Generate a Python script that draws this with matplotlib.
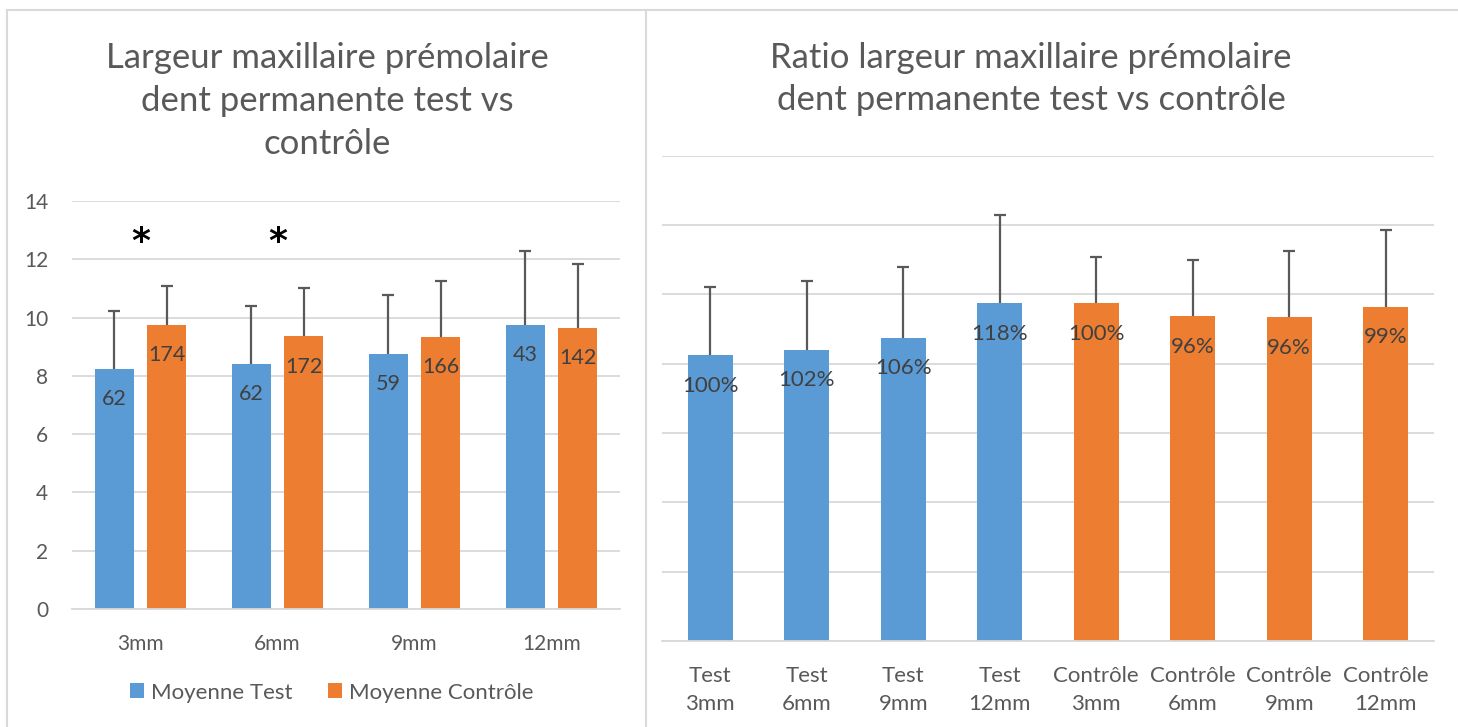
import numpy as np
import matplotlib
matplotlib.use("Agg")
import matplotlib.pyplot as plt
from matplotlib.lines import Line2D

plt.rcParams["font.family"] = ["Lato", "DejaVu Sans"]

# ---------------------------
# Data
# ---------------------------
depths = ["3mm", "6mm", "9mm", "12mm"]
mean_test = [8.24, 8.40, 8.75, 9.74]
mean_ctrl = [9.74, 9.36, 9.33, 9.64]
sd_test = [1.97, 1.98, 2.04, 2.54]
sd_ctrl = [1.33, 1.64, 1.91, 2.20]
n_test = [62, 62, 59, 43]
n_ctrl = [174, 172, 166, 142]
significant = ["3mm", "6mm"]

BLUE = "#5B9BD5"
ORANGE = "#ED7D31"
GRID = "#D9D9D9"
TXT = "#595959"
LBL = "#404040"

W, H = 1458, 727
fig = plt.figure(figsize=(W / 100, H / 100), dpi=100)


def px(x0, y0, x1, y1):
    # pixel box -> figure fraction rect
    return [x0 / W, 1 - y1 / H, (x1 - x0) / W, (y1 - y0) / H]


def style_axis(ax, size):
    for s in ["top", "right", "left"]:
        ax.spines[s].set_visible(False)
    ax.spines["bottom"].set_color(GRID)
    ax.spines["bottom"].set_linewidth(1.3)
    ax.set_ylim(0, 14)
    ax.set_yticks(np.arange(0, 15, 2))
    ax.grid(axis="y", color=GRID, linewidth=1.3)
    ax.set_axisbelow(True)
    ax.tick_params(length=0, colors=TXT, labelsize=size)


def error_up(ax, x, means, sds):
    eb = ax.errorbar(x, means, yerr=[np.zeros(len(sds)), sds], fmt="none",
                     ecolor=TXT, elinewidth=1.6, capsize=4, capthick=1.6, zorder=3)
    for cap in eb.lines[1]:
        if np.allclose(cap.get_ydata(), means):
            cap.set_visible(False)


# ---------------------------
# Left: mean width per depth
# ---------------------------
ax1 = fig.add_axes(px(72, 201, 620, 609))
style_axis(ax1, 15)
x = np.arange(len(depths))
bw = 0.29
off = 0.19
b1 = ax1.bar(x - off, mean_test, bw, color=BLUE, label="Moyenne Test", zorder=2)
b2 = ax1.bar(x + off, mean_ctrl, bw, color=ORANGE, label="Moyenne Contrôle", zorder=2)
error_up(ax1, x - off, mean_test, sd_test)
error_up(ax1, x + off, mean_ctrl, sd_ctrl)
ax1.bar_label(b1, labels=[str(v) for v in n_test], padding=-29, color=LBL, fontsize=15.5)
ax1.bar_label(b2, labels=[str(v) for v in n_ctrl], padding=-29, color=LBL, fontsize=15.5)
ax1.set_xlim(-0.5, len(depths) - 0.5)
ax1.set_xticks(x, depths)
ax1.tick_params(axis="x", pad=18)
ax1.tick_params(axis="y", pad=17)
for d in significant:
    i = depths.index(d)
    ax1.text(i, 12.6, "*", ha="center", va="center", fontsize=26,
             fontweight="bold", color="black", family="DejaVu Sans")
ax1.legend(loc="center", bbox_to_anchor=(0.474, -0.205), ncol=2, frameon=False,
           handlelength=0.65, handleheight=0.65, handletextpad=0.3,
           columnspacing=1.6, fontsize=16, labelcolor=TXT)

fig.text(327 / W, 1 - 101 / H,
         "Largeur maxillaire prémolaire\ndent permanente test vs\ncontrôle",
         ha="center", va="center", fontsize=25, color=TXT, linespacing=1.42)

# ---------------------------
# Right: ratio vs first depth
# ---------------------------
ax2 = fig.add_axes(px(662, 155.5, 1434, 641))
style_axis(ax2, 16)
groups = ["Test"] * len(depths) + ["Contrôle"] * len(depths)
cats = [f"{g}\n{d}" for g, d in zip(groups, depths * 2)]
means_all = mean_test + mean_ctrl
sds_all = sd_test + sd_ctrl
ratios = [m / mean_test[0] for m in mean_test] + [m / mean_ctrl[0] for m in mean_ctrl]
x2 = np.arange(len(cats))
bars = ax2.bar(x2, means_all, 0.47, color=[BLUE] * 4 + [ORANGE] * 4, zorder=2)
error_up(ax2, x2, means_all, sds_all)
ax2.bar_label(bars, labels=[f"{r:.0%}" for r in ratios], padding=-29, color=LBL, fontsize=16)
ax2.set_xlim(-0.5, len(cats) - 0.5)
ax2.set_xticks(x2, cats)
ax2.tick_params(axis="x", pad=18)
ax2.tick_params(axis="y", labelleft=False)
for t in ax2.get_xticklabels():
    t.set_linespacing(1.5)

fig.text(1031 / W, 1 - 79 / H,
         "Ratio largeur maxillaire prémolaire\ndent permanente test vs contrôle",
         ha="center", va="center", fontsize=25, color=TXT, linespacing=1.42)

# panel frames
for xs, ys in [([7 / W, 1], [1 - 10 / H] * 2),
               ([7 / W] * 2, [0, 1 - 10 / H]),
               ([646 / W] * 2, [0, 1 - 10 / H])]:
    fig.add_artist(Line2D(xs, ys, color=GRID, linewidth=1.5))

fig.savefig("out.png", dpi=100)
